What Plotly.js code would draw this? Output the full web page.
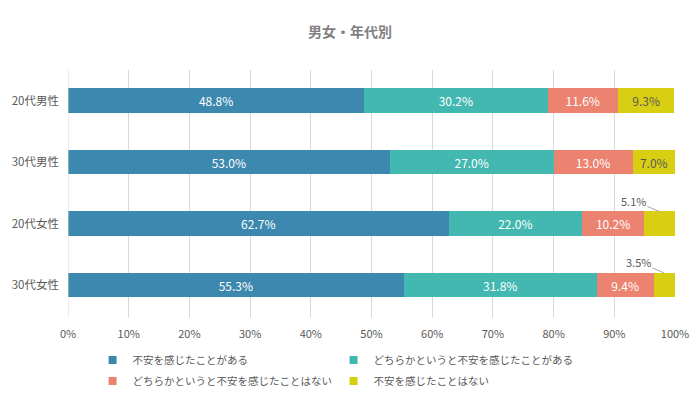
<!DOCTYPE html>
<html><head><meta charset="utf-8">
<script src="https://cdn.plot.ly/plotly-3.0.1.min.js"></script>
<style>body{margin:0;background:#fff}#c{width:700px;height:400px}</style>
</head><body><div id="c"></div>
<script>
const categories = ['20代男性','30代男性','20代女性','30代女性'];
const seriesNames = ['不安を感じたことがある','どちらかというと不安を感じたことがある','どちらかというと不安を感じたことはない','不安を感じたことはない'];
const s1 = [48.8, 53.0, 62.7, 55.3];
const s2 = [30.2, 27.0, 22.0, 31.8];
const s3 = [11.6, 13.0, 10.2, 9.4];
const s4 = [9.3, 7.0, 5.1, 3.5];
const xTickVals = [0,10,20,30,40,50,60,70,80,90,100];
const xTickText = ['0%','10%','20%','30%','40%','50%','60%','70%','80%','90%','100%'];
const colors = ['#3d88ae','#42b8b0','#ec8270','#d9cf12'];
const textColors = ['#ffffff','#ffffff','#ffffff','#595959'];
const FONT = '"Noto Sans CJK JP", "Noto Sans", sans-serif';
const all = [s1,s2,s3,s4];
const legendIds = ['legend','legend2','legend3','legend4'];
const traces = all.map((vals,i)=>({
  type:'bar', orientation:'h', name:seriesNames[i], y:categories, x:vals,
  marker:{color:colors[i]}, width:0.4, showlegend:false,
  text: vals.map(v=> v>=6 ? v.toFixed(1)+'%' : ''),
  textposition:'inside', insidetextanchor:'middle', constraintext:'none',
  textfont:{color:textColors[i], size:12, family:FONT},
  hoverinfo:'none'
}));
// legend-only entries with small square keys
all.forEach((vals,i)=>{
  traces.push({type:'scatter', mode:'markers', x:[null], y:[null], name:seriesNames[i], legend:legendIds[i],
    marker:{symbol:'square', size:8, color:colors[i]}, showlegend:true, hoverinfo:'none'});
});
const annotations = [];
s4.forEach((v,j)=>{
  if(v<6){
    const start = s1[j]+s2[j]+s3[j];
    annotations.push({x:start+v/2, y:categories[j], yshift:12, text:v.toFixed(1)+'%',
      showarrow:true, arrowhead:0, arrowwidth:1, arrowcolor:'#a6a6a6', ax:-26, ay:-11,
      font:{size:11,color:'#595959',family:FONT}});
  }
});
const legCommon = {orientation:'h', xanchor:'left', yanchor:'middle', xref:'paper', yref:'container',
    font:{size:10.5,color:'#595959',family:FONT}, itemwidth:30, bgcolor:'rgba(0,0,0,0)'};
const col1 = 0.0405, col2 = 0.4375, row1 = 1-360/400, row2 = 1-381/400;
const layout = {
  width:700, height:400,
  margin:{l:68, r:25, t:70, b:82, autoexpand:false},
  paper_bgcolor:'#fff', plot_bgcolor:'#fff',
  barmode:'stack', bargap:0.6,
  font:{family:FONT, color:'#595959', size:11},
  title:{text:'<b>男女・年代別</b>', x:0.5, xanchor:'center', y:0.92, yanchor:'middle', font:{size:14,color:'#7f7f7f',family:FONT}},
  xaxis:{range:[0,100], tickvals:xTickVals, ticktext:xTickText, showgrid:true, gridcolor:'#d9d9d9', zeroline:false,
    showline:false, ticks:'', tickfont:{size:11,color:'#595959'}, automargin:false, ticklabelstandoff:8},
  yaxis:{autorange:'reversed', showgrid:false, zeroline:false, showline:false, ticks:'',
    tickfont:{size:11.5,color:'#595959'}, automargin:false, ticklabelstandoff:8},
  shapes:[{type:'line', xref:'x', yref:'paper', x0:0, x1:0, y0:0, y1:1, line:{color:'#d9d9d9', width:1}}],
  legend:Object.assign({}, legCommon, {x:col1, y:row1}),
  legend2:Object.assign({}, legCommon, {x:col2, y:row1}),
  legend3:Object.assign({}, legCommon, {x:col1, y:row2}),
  legend4:Object.assign({}, legCommon, {x:col2, y:row2}),
  annotations:annotations,
  showlegend:true
};
Plotly.newPlot('c', traces, layout, {staticPlot:true});
</script></body></html>
